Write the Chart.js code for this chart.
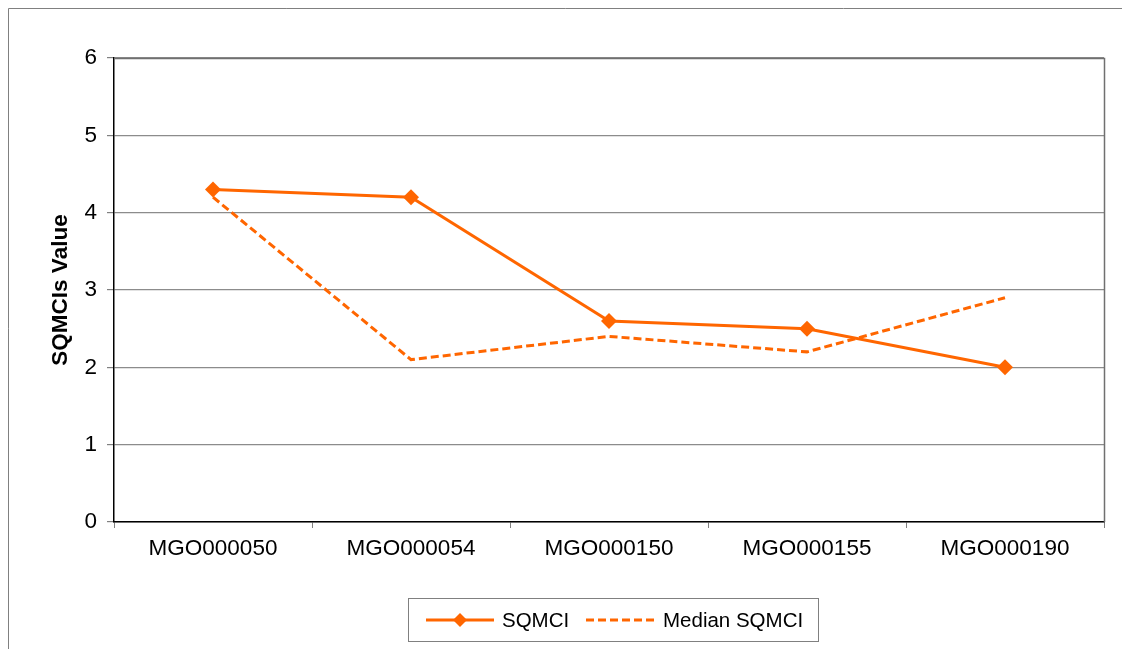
<!DOCTYPE html>
<html>
<head>
<meta charset="utf-8">
<script src="https://cdn.jsdelivr.net/npm/chart.js@4/dist/chart.umd.min.js"></script>
<style>
html,body{margin:0;padding:0;background:#fff;}
#wrap{width:1122px;height:649px;position:relative;}
</style>
</head>
<body>
<div id="wrap"><canvas id="c" width="1122" height="649"></canvas></div>
<script>
const categories = ['MGO000050','MGO000054','MGO000150','MGO000155','MGO000190'];
const sqmci = [4.3, 4.2, 2.6, 2.5, 2.0];
const medianSqmci = [4.2, 2.1, 2.4, 2.2, 2.9];
const yTicks = [0,1,2,3,4,5,6];
const seriesLabels = ['SQMCI','Median SQMCI'];
const yTitle = 'SQMCIs Value';

const ORANGE = '#FF6600';
const FONT = '"Liberation Sans", Arial, sans-serif';
const FSIZE = 22.5;
const LSIZE = 20.5;

const framePlugin = {
  id: 'frame',
  beforeDraw(chart) {
    const ctx = chart.ctx;
    ctx.save();
    ctx.fillStyle = '#fff';
    ctx.fillRect(0,0,chart.width,chart.height);
    ctx.strokeStyle = '#808080';
    ctx.lineWidth = 1;
    ctx.beginPath();
    ctx.moveTo(8.5, chart.height);
    ctx.lineTo(8.5, 8.5);
    ctx.lineTo(chart.width, 8.5);
    ctx.stroke();
    ctx.restore();
  },
  beforeDatasetsDraw(chart) {
    const ctx = chart.ctx, a = chart.chartArea;
    ctx.save();
    ctx.strokeStyle = '#707070';
    ctx.lineWidth = 1.5;
    ctx.beginPath();
    ctx.moveTo(a.left, a.top + 0.5);
    ctx.lineTo(a.right + 0.5, a.top + 0.5);
    ctx.lineTo(a.right + 0.5, a.bottom);
    ctx.stroke();
    ctx.restore();
  },
  afterDraw(chart) {
    const ctx = chart.ctx;
    ctx.save();
    const bx = 408.5, by = 598.5, bw = 410, bh = 43;
    ctx.strokeStyle = '#808080';
    ctx.lineWidth = 1;
    ctx.strokeRect(bx, by, bw, bh);
    const cy = 620;
    ctx.font = LSIZE + 'px ' + FONT;
    ctx.fillStyle = '#000';
    ctx.textBaseline = 'middle';
    ctx.strokeStyle = ORANGE;
    ctx.lineWidth = 3;
    ctx.beginPath(); ctx.moveTo(426, cy); ctx.lineTo(494, cy); ctx.stroke();
    ctx.fillStyle = ORANGE;
    ctx.beginPath();
    ctx.moveTo(460, cy-7); ctx.lineTo(467, cy); ctx.lineTo(460, cy+7); ctx.lineTo(453, cy); ctx.closePath(); ctx.fill();
    ctx.fillStyle = '#000';
    ctx.fillText(chart.data.datasets[0].label, 502, cy+1);
    ctx.strokeStyle = ORANGE;
    ctx.setLineDash([8,4]);
    ctx.beginPath(); ctx.moveTo(586, cy); ctx.lineTo(656, cy); ctx.stroke();
    ctx.setLineDash([]);
    ctx.fillText(chart.data.datasets[1].label, 663, cy+1);
    ctx.restore();
  }
};

new Chart(document.getElementById('c'), {
  type: 'line',
  data: {
    labels: categories,
    datasets: [
      {
        label: seriesLabels[0],
        data: sqmci,
        borderColor: ORANGE,
        backgroundColor: ORANGE,
        borderWidth: 3,
        pointStyle: 'rectRot',
        pointRadius: 8,
        pointHoverRadius: 8,
        pointBorderWidth: 0,
        tension: 0,
        order: 1
      },
      {
        label: seriesLabels[1],
        data: medianSqmci,
        borderColor: ORANGE,
        backgroundColor: ORANGE,
        borderWidth: 3,
        borderDash: [8,4],
        pointRadius: 0,
        tension: 0,
        order: 2
      }
    ]
  },
  options: {
    responsive: false,
    animation: false,
    devicePixelRatio: 1,
    layout: { padding: { left: 0, top: 58, right: 18, bottom: 0 } },
    plugins: { legend: { display: false }, tooltip: { enabled: false } },
    scales: {
      x: {
        offset: true,
        grid: { offset: true, drawOnChartArea: false, drawTicks: true, tickLength: 6, tickColor: '#808080' },
        border: { color: '#000', width: 1.5 },
        ticks: { color: '#000', font: { family: FONT, size: FSIZE }, padding: 7, maxRotation: 0 },
        afterFit(s) { s.height = 127; }
      },
      y: {
        min: 0, max: 6,
        afterBuildTicks(s) { s.ticks = yTicks.map(v => ({ value: v })); },
        grid: { color: '#8c8c8c', lineWidth: 1.2, drawTicks: true, tickLength: 7, tickColor: '#808080' },
        border: { color: '#000', width: 1.5 },
        ticks: { color: '#000', font: { family: FONT, size: FSIZE }, padding: 10, stepSize: 1 },
        title: { display: true, text: yTitle, color: '#000', font: { family: FONT, size: FSIZE, weight: 'bold' }, padding: { top: 47, bottom: 0 } },
        afterFit(s) { s.width = 114; }
      }
    }
  },
  plugins: [framePlugin]
});
</script>
</body>
</html>
